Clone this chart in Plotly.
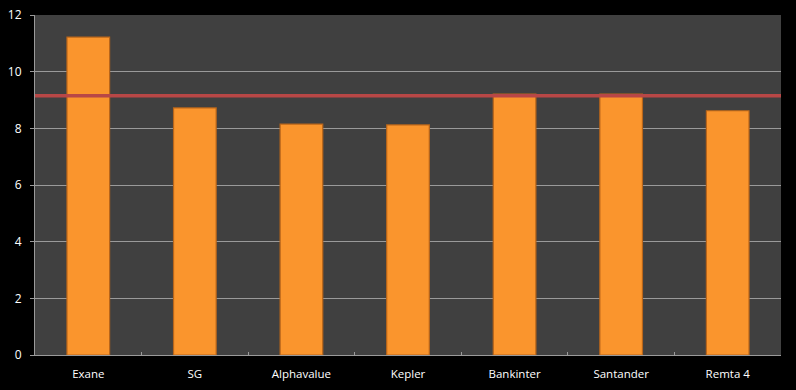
import plotly.graph_objects as go

categories = ["Exane", "SG", "Alphavalue", "Kepler", "Bankinter", "Santander", "Remta 4"]
values = [11.22, 8.72, 8.15, 8.12, 9.21, 9.21, 8.62]
average = 9.15
y_ticks = [0, 2, 4, 6, 8, 10, 12]

fig = go.Figure()
fig.add_trace(go.Bar(
    x=categories, y=values,
    width=0.4,
    marker=dict(color="#FA952D", line=dict(color="#B8651A", width=1.2)),
))
fig.add_hline(y=average, line=dict(color="#B84746", width=3.5), layer="above")

fig.update_layout(
    width=796, height=390,
    margin=dict(l=35, r=15, t=15, b=35),
    paper_bgcolor="#000000",
    plot_bgcolor="#404040",
    showlegend=False,
    font=dict(family="Open Sans, Liberation Sans, sans-serif", size=11, color="#FFFFFF"),
    bargap=0.6,
)
fig.update_yaxes(
    range=[0, 12], tickvals=y_ticks, ticktext=[str(v) for v in y_ticks],
    showgrid=True, gridcolor="#9A9A9A", gridwidth=1,
    ticks="outside", ticklen=4, tickcolor="#9A9A9A",
    showline=True, linecolor="#9A9A9A", linewidth=1,
    zeroline=False, tickfont=dict(size=12), ticklabelstandoff=6,
    automargin=False,
)
fig.update_xaxes(
    type="category", tickson="boundaries", ticks="inside", ticklen=3,
    tickcolor="#9A9A9A", showline=True, linecolor="#9A9A9A", linewidth=1,
    showgrid=False, tickfont=dict(size=11.5), ticklabelstandoff=8,
    automargin=False,
)
fig.write_html("out.html")
